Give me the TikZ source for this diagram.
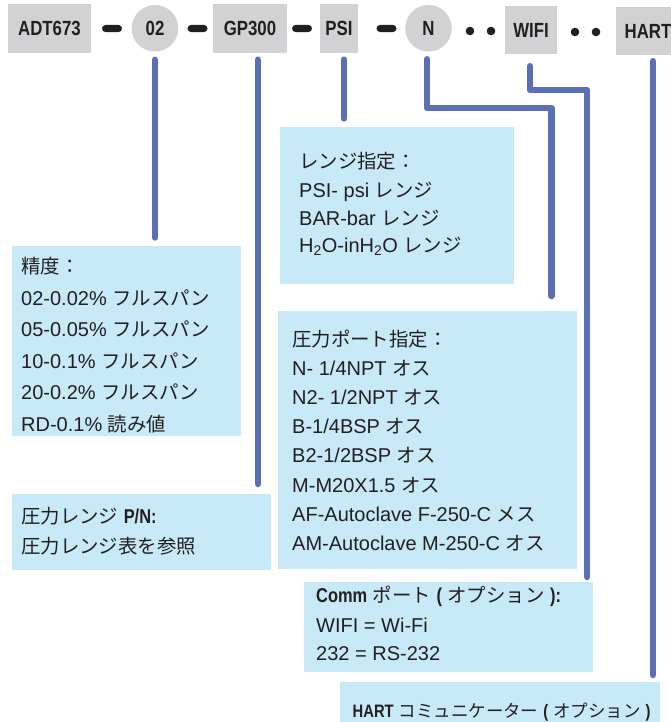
\documentclass[tikz,border=0pt]{standalone}
\usepackage{fontspec}
\setmainfont{Liberation Sans}
\newfontfamily\jpfont[Scale=0.97]{Noto Sans CJK JP}
\newfontfamily\condfont[FakeStretch=0.82]{Liberation Sans}
\newcommand\J[1]{{\jpfont #1}}
\newcommand\B[1]{{\condfont\bfseries #1}}
\definecolor{ink}{HTML}{231F20}
\definecolor{boxgray}{HTML}{D1D2D4}
\definecolor{infoblue}{HTML}{C7E9F8}
\definecolor{leadblue}{HTML}{5A6FB6}
\tikzset{
  code/.style={fill=boxgray, inner sep=0pt, text=ink, font=\condfont\bfseries\fontsize{20.5}{24}\selectfont},
  codebox/.style={code, rectangle},
  codecirc/.style={code, circle, minimum size=46.6pt},
  pill/.style={fill=ink, rounded corners=3.6pt, minimum width=20pt, minimum height=7.2pt, inner sep=0pt},
  dot/.style={fill=ink, circle, minimum size=8.6pt, inner sep=0pt},
  info/.style={fill=infoblue, inner sep=0pt, anchor=north west},
  txt/.style={anchor=base west, inner sep=0pt, text=ink, font=\fontsize{20}{24}\selectfont},
  lead/.style={draw=leadblue, line width=6.5pt, line cap=round, line join=round},
}
\begin{document}
\begin{tikzpicture}[x=1pt,y=-1pt]
\useasboundingbox (0,0) rectangle (671,722);
% info boxes
\node[info, minimum width=229pt, minimum height=190pt] (acc) at (12,246) {};
\node[info, minimum width=234pt, minimum height=156.5pt] (rng) at (280,127) {};
\node[info, minimum width=299pt, minimum height=258pt] (port) at (278,311) {};
\node[info, minimum width=259pt, minimum height=76pt] (pn) at (12,494) {};
\node[info, minimum width=289pt, minimum height=90pt] (comm) at (304,582) {};
\node[info, minimum width=320pt, minimum height=45pt] (hbox) at (340,682) {};
% top row
\node[codebox, minimum width=83pt, minimum height=49pt] (adt) at (49.5,28.5) {ADT673};
\node[pill] (d1) at (112,28.5) {};
\node[codecirc] (c02) at (155,28.3) {02};
\node[pill] (d2) at (197.5,28.5) {};
\node[codebox, minimum width=74pt, minimum height=49pt] (gp) at (250,28.5) {GP300};
\node[pill] (d3) at (302,28.5) {};
\node[codebox, minimum width=38pt, minimum height=49pt] (psi) at (339,28.5) {PSI};
\node[pill] (d4) at (386.5,28.5) {};
\node[codecirc] (cn) at (428.5,28.3) {N};
\node[dot] (p1) at (470,31) {};
\node[dot] (p2) at (491,31) {};
\node[codebox, minimum width=52pt, minimum height=48pt] (wifi) at (531,30) {WIFI};
\node[dot] (p3) at (575,32) {};
\node[dot] (p4) at (596,32) {};
\node[codebox, minimum width=64pt, minimum height=48pt] (hart) at (648,31) {HART};
% leader ends
\coordinate (e02) at (155,237.5);
\coordinate (egp) at (258,484);
\coordinate (epsi) at (344,118.5);
\coordinate (en) at (551.5,296);
\coordinate (ewifi) at (587,577);
\coordinate (ehart) at (653,675);
% leaders
\draw[lead] ([yshift=-8pt]c02.south) -- (e02);
\draw[lead] ([xshift=8pt,yshift=-6.5pt]gp.south) -- (egp);
\draw[lead] ([xshift=5pt,yshift=-6.5pt]psi.south) -- (epsi);
\draw[lead] ([xshift=-1.5pt,yshift=-7.5pt]cn.south) |- (551.5,108) -- (en);
\draw[lead] ([xshift=-1pt,yshift=-12pt]wifi.south) |- (587,90) -- (ewifi);
\draw[lead] ([xshift=5pt,yshift=-6pt]hart.south) -- (ehart);
% accuracy
\node[txt] (a1) at (21,273.5) {\J{精度：}};
\node[txt] (a2) at (21,305) {02-0.02\% \J{フルスパン}};
\node[txt] (a3) at (21,336.5) {05-0.05\% \J{フルスパン}};
\node[txt] (a4) at (21,368) {10-0.1\% \J{フルスパン}};
\node[txt] (a5) at (21,399.5) {20-0.2\% \J{フルスパン}};
\node[txt] (a6) at (21,431) {RD-0.1\% \J{読み値}};
% range
\node[txt] (r1) at (299,169) {\J{レンジ指定：}};
\node[txt] (r2) at (299,197) {PSI- psi \J{レンジ}};
\node[txt] (r3) at (299,225) {BAR-bar \J{レンジ}};
\node[txt] (r4) at (299,252) {H\textsubscript{2}O-inH\textsubscript{2}O \J{レンジ}};
% port
\node[txt] (o1) at (292,346) {\J{圧力ポート指定：}};
\node[txt] (o2) at (292,375) {N- 1/4NPT \J{オス}};
\node[txt] (o3) at (292,404) {N2- 1/2NPT \J{オス}};
\node[txt] (o4) at (292,433.5) {B-1/4BSP \J{オス}};
\node[txt] (o5) at (292,462.5) {B2-1/2BSP \J{オス}};
\node[txt] (o6) at (292,492) {M-M20X1.5 \J{オス}};
\node[txt] (o7) at (292,521) {AF-Autoclave F-250-C \J{メス}};
\node[txt] (o8) at (292,550) {AM-Autoclave M-250-C \J{オス}};
% P/N
\node[txt] (n1) at (21,523) {\J{圧力レンジ} \B{P/N:}};
\node[txt] (n2) at (21,553) {\J{圧力レンジ表を参照}};
% comm
\node[txt] (m1) at (316,602) {\B{Comm} \J{ポート} \B{(} \J{オプション} \B{):}};
\node[txt] (m2) at (316,632) {WIFI = Wi-Fi};
\node[txt] (m3) at (316,660) {232 = RS-232};
% hart
\node[txt, font=\fontsize{18}{22}\selectfont] (h1) at (352.5,717) {\B{HART} \J{コミュニケーター} \B{(} \J{オプション} \B{)}};
\end{tikzpicture}
\end{document}
